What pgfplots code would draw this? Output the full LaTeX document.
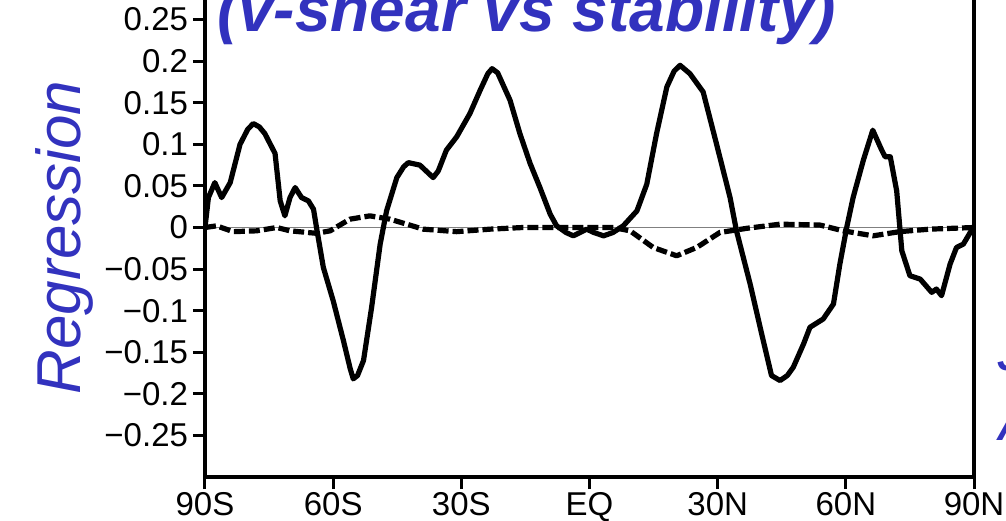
\documentclass[border=0pt]{standalone}
\usepackage{fontspec}
\setmainfont{Liberation Sans}
\usepackage{pgfplots}
\pgfplotsset{compat=1.18}
\definecolor{ttl}{RGB}{50,50,190}

\begin{document}
\begin{tikzpicture}
\begin{scope}
\clip (-102.5bp,-22bp) rectangle (400.5bp,238.5bp);
\begin{axis}[at={(0,0)}, anchor=south west, scale only axis,
  width=384.5bp, height=249.5bp,
  xmin=-90, xmax=90, ymin=-0.3, ymax=0.3,
  xtick={-90,-60,-30,0,30,60,90},
  xticklabels={90S,60S,30S,EQ,30N,60N,90N},
  ytick={-0.25,-0.2,-0.15,-0.1,-0.05,0,0.05,0.1,0.15,0.2,0.25},
  yticklabels={−0.25,−0.2,−0.15,−0.1,−0.05,0,0.05,0.1,0.15,0.2,0.25},
  tick pos=left, tick align=outside, major tick length=6bp,
  axis line style={line width=2bp},
  every tick/.style={black, line width=1.5bp},
  tick label style={font=\fontsize{16.5bp}{18bp}\selectfont},
  xticklabel style={yshift=2bp},
  yticklabel style={xshift=1bp},
  clip mode=individual]

\addplot[gray, line width=0.6bp, forget plot] coordinates {(-90,0) (90,0)};

% solid: regression
\addplot[black, line width=2.6bp, line join=round] coordinates {
(-90,0.000) (-89.2,0.036) (-87.7,0.054) (-86.1,0.036) (-84.1,0.054)
(-81.8,0.100) (-80.0,0.118) (-78.7,0.125) (-77.3,0.121) (-76.0,0.113)
(-73.6,0.089) (-72.4,0.032) (-71.3,0.014) (-70.1,0.036) (-68.9,0.048)
(-67.4,0.036) (-65.8,0.032) (-64.6,0.022) (-63.9,0.000) (-62.3,-0.048)
(-60.0,-0.088) (-57.6,-0.136) (-56.0,-0.170) (-55.3,-0.182) (-54.3,-0.178)
(-52.9,-0.160) (-51.0,-0.096) (-49.0,-0.020) (-47.5,0.020) (-45.1,0.060)
(-43.5,0.073) (-42.4,0.078) (-39.7,0.075) (-36.6,0.060) (-35.4,0.068)
(-33.5,0.093) (-31.1,0.109) (-28.0,0.137) (-25.6,0.165) (-23.8,0.185)
(-22.8,0.191) (-21.5,0.186) (-18.6,0.153) (-16.3,0.113) (-13.9,0.077)
(-11.6,0.048) (-9.2,0.016) (-7.7,0.002) (-5.5,-0.006) (-3.8,-0.010)
(-2.2,-0.006) (-0.65,-0.002) (1.0,-0.006) (3.3,-0.010) (5.5,-0.006)
(7.9,0.002) (11.1,0.020) (13.4,0.052) (15.7,0.113) (18.1,0.169)
(19.8,0.188) (21.2,0.195) (23.5,0.185) (26.6,0.163) (29.7,0.101)
(32.9,0.036) (34.4,-0.004) (37.6,-0.068) (40.3,-0.128) (42.6,-0.178)
(44.6,-0.184) (46.3,-0.178) (47.7,-0.168) (50.1,-0.140) (51.6,-0.120)
(54.7,-0.110) (57.1,-0.092) (58.6,-0.044) (60.2,0.000) (61.7,0.036)
(64.1,0.081) (66.3,0.117) (68.4,0.093) (69.2,0.085) (70.4,0.085)
(71.9,0.044) (73.1,-0.028) (75.0,-0.058) (77.4,-0.062) (80.1,-0.078)
(81.2,-0.074) (82.4,-0.082) (84.4,-0.044) (85.9,-0.024) (87.5,-0.020)
(89.8,0.000) (90,0.000)};

% dashed
\addplot[black, line width=2.6bp, dash pattern=on 5.5bp off 2bp, line join=round] coordinates {
(-90,0.000) (-87.3,0.002) (-83.4,-0.005) (-77.9,-0.004) (-73.2,0.000)
(-70.1,-0.004) (-63.9,-0.007) (-60.7,-0.004) (-56.1,0.010) (-51.4,0.014)
(-46.7,0.010) (-38.9,-0.002) (-31.1,-0.005) (-23.3,-0.002) (-15.5,0.000)
(-7.7,0.000) (-2.2,0.000) (5.6,0.000) (9.5,-0.004) (14.9,-0.024)
(20.4,-0.034) (25.1,-0.024) (30.5,-0.006) (36.8,-0.001) (44.6,0.004)
(53.9,0.003) (59.4,-0.004) (66.4,-0.010) (72.6,-0.005) (79.6,-0.002)
(90,0.000)};

\node[anchor=base west, text=ttl, inner sep=0pt,
  font=\fontsize{32bp}{36bp}\selectfont\bfseries\itshape]
  at (rel axis cs:0.0152,0.8918) {(v-shear vs stability)};
\node[rotate=90, text=ttl, inner sep=0pt,
  font=\fontsize{31bp}{34bp}\selectfont\itshape]
  at (rel axis cs:-0.183,0.48) {Regression};
\node[anchor=base west, text=ttl, inner sep=0pt,
  font=\fontsize{21bp}{24bp}\selectfont\bfseries\itshape]
  at (rel axis cs:1.03,0.214) {J};
\node[anchor=base west, text=ttl, inner sep=0pt,
  font=\fontsize{21bp}{24bp}\selectfont\bfseries\itshape]
  at (rel axis cs:1.03,0.074) {A};
\end{axis}
\end{scope}
\pgfresetboundingbox
\path[use as bounding box] (-102.5bp,-22bp) rectangle (400.5bp,238.5bp);
\end{tikzpicture}
\end{document}
